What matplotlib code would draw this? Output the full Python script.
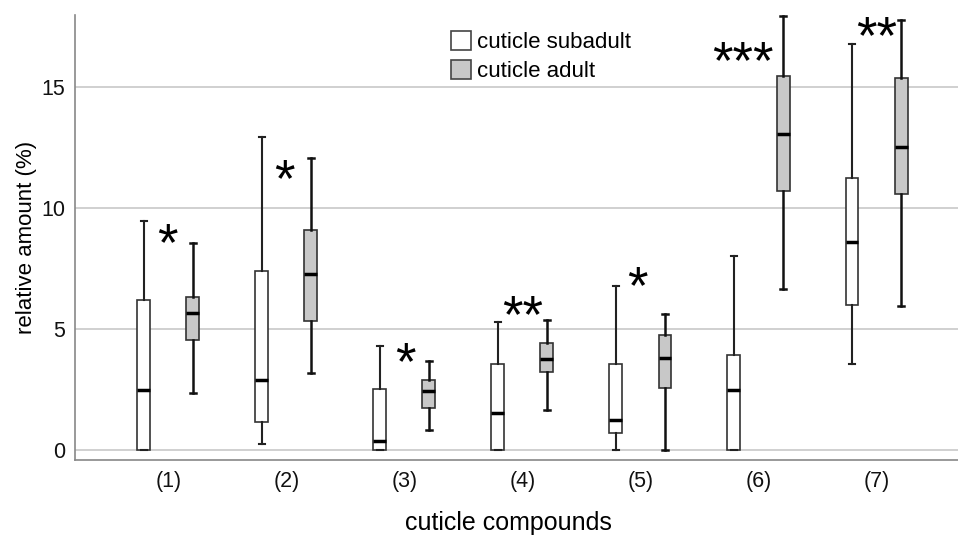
import matplotlib
matplotlib.use("Agg")
import matplotlib.pyplot as plt
from matplotlib.patches import Patch

plt.rcParams["font.family"] = ["Liberation Sans", "DejaVu Sans"]

compounds = ["(1)", "(2)", "(3)", "(4)", "(5)", "(6)", "(7)"]

# cuticle subadult: lower whisker, q1, median, q3, upper whisker
sub_low = [0.0, 0.22, 0.0, 0.0, 0.0, 0.0, 3.53]
sub_q1 = [0.0, 1.13, 0.0, 0.0, 0.70, 0.0, 5.97]
sub_med = [2.45, 2.86, 0.36, 1.52, 1.22, 2.47, 8.57]
sub_q3 = [6.20, 7.38, 2.50, 3.52, 3.55, 3.91, 11.21]
sub_high = [9.46, 12.93, 4.30, 5.26, 6.76, 8.00, 16.78]

# cuticle adult
adult_low = [2.34, 3.17, 0.80, 1.65, 0.0, 6.65, 5.93]
adult_q1 = [4.53, 5.32, 1.70, 3.20, 2.55, 10.69, 10.55]
adult_med = [5.63, 7.26, 2.42, 3.76, 3.79, 13.03, 12.50]
adult_q3 = [6.30, 9.08, 2.87, 4.42, 4.73, 15.44, 15.37]
adult_high = [8.53, 12.04, 3.65, 5.36, 5.60, 17.93, 17.74]

# significance marks
signif = ["*", "*", "*", "**", "*", "***", "**"]
signif_x = [-0.01, 0.98, 2.01, 3.0, 3.97, 4.87, 6.0]
signif_y = [9.01, 11.67, 4.09, 6.02, 7.22, 16.52, 17.55]


def make_stats(low, q1, med, q3, high):
    return [dict(whislo=a, q1=b, med=c, q3=d, whishi=e, fliers=[])
            for a, b, c, d, e in zip(low, q1, med, q3, high)]


fig = plt.figure(figsize=(9.58, 5.35), dpi=100)
ax = fig.add_axes([75 / 958, 75 / 535, 883 / 958, 445 / 535])

pos = list(range(len(compounds)))
offset = 0.208
common = dict(widths=0.11, patch_artist=True, showfliers=False, capwidths=0.05,
              medianprops=dict(color="black", linewidth=2.5),
              whiskerprops=dict(color="#222222", linewidth=1.5),
              capprops=dict(color="#222222", linewidth=1.5))

ax.bxp(make_stats(sub_low, sub_q1, sub_med, sub_q3, sub_high),
       positions=[p - offset for p in pos],
       boxprops=dict(facecolor="white", edgecolor="#333333", linewidth=1.2), **common)
ax.bxp(make_stats(adult_low, adult_q1, adult_med, adult_q3, adult_high),
       positions=[p + offset for p in pos],
       boxprops=dict(facecolor="#c8c8c8", edgecolor="#333333", linewidth=1.2),
       **{**common, "whiskerprops": dict(color="#111111", linewidth=1.8),
          "capprops": dict(color="#111111", linewidth=1.8)})

star_size = 38
for s, x, y in zip(signif, signif_x, signif_y):
    ax.annotate(s, (x, y), xytext=(0, -0.54 * star_size), textcoords="offset points",
                ha="center", va="baseline", fontsize=star_size)

ax.set_xlim(-0.79, 6.69)
ax.set_ylim(-0.43, 17.96)
ax.set_xticks(pos)
ax.set_xticklabels(compounds)
ax.set_yticks([0, 5, 10, 15])
ax.tick_params(length=0, labelsize=15.5, colors="#111111")
ax.tick_params(axis="x", pad=8)
ax.tick_params(axis="y", pad=7)
ax.yaxis.grid(True, color="#c8c8c8", linewidth=1.2)
ax.set_axisbelow(True)
for side in ["top", "right"]:
    ax.spines[side].set_visible(False)
for side in ["left", "bottom"]:
    ax.spines[side].set_color("#888888")
    ax.spines[side].set_linewidth(1.2)

ax.set_xlabel("cuticle compounds", fontsize=18, labelpad=12)
ax.xaxis.set_label_coords((508 - 75) / 883, -0.114)
ax.set_ylabel("relative amount (%)", fontsize=16, labelpad=3)

handles = [Patch(facecolor="white", edgecolor="#444444", linewidth=1.2),
           Patch(facecolor="#c8c8c8", edgecolor="#444444", linewidth=1.2)]
ax.legend(handles, ["cuticle subadult", "cuticle adult"], loc="upper left",
          bbox_to_anchor=(451 / 958, 1 - 31 / 535), bbox_transform=fig.transFigure,
          frameon=False, fontsize=16, borderpad=0, borderaxespad=0,
          handlelength=0.9, handleheight=0.95, handletextpad=0.25, labelspacing=0.3)

fig.savefig("out.png", dpi=100)
